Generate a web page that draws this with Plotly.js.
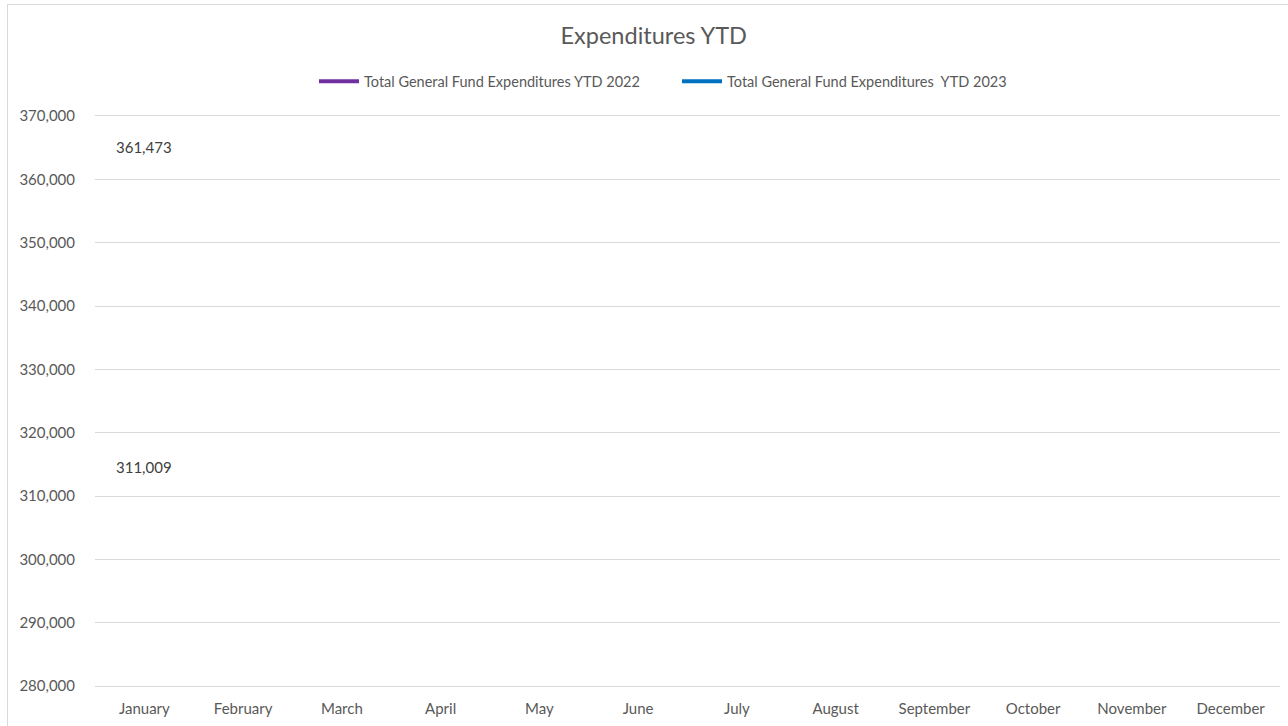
<!DOCTYPE html>
<html>
<head>
<meta charset="utf-8">
<script src="https://cdn.plot.ly/plotly-3.0.1.min.js"></script>
<style>
  body { margin: 0; background: #fff; }
  #chart { position: absolute; left: 7px; top: 4px; width: 1280px; height: 724px;
           border: 1px solid #d9d9d9; box-sizing: content-box; }
</style>
</head>
<body>
<div id="chart"></div>
<script>
var months = ['January', 'February', 'March', 'April', 'May', 'June',
              'July', 'August', 'September', 'October', 'November', 'December'];
var ytd2022 = [361473];
var ytd2023 = [311009];
var names = ['Total General Fund Expenditures YTD 2022',
             'Total General Fund Expenditures  YTD 2023'];
var colors = ['#7030a0', '#0070c0'];

var series = [ytd2022, ytd2023];
var data = [];
var notes = [];

for (var i = 0; i < series.length; i++) {
  data.push({
    x: months.slice(0, series[i].length),
    y: series[i],
    mode: 'lines',
    name: names[i].replace(/  /g, '&nbsp; '),
    line: {color: colors[i], width: 4}
  });
  // data labels sit just above each point, like Excel's "above" labels
  for (var j = 0; j < series[i].length; j++) {
    notes.push({
      x: months[j], y: series[i][j],
      text: series[i][j].toLocaleString('en-US'),
      showarrow: false, yshift: 23,
      font: {family: 'Lato, sans-serif', size: 15, color: '#404040'}
    });
  }
}

// dummy trace so all twelve months show on the axis
data.push({x: months, y: months.map(function () { return null; }),
           mode: 'lines', showlegend: false, hoverinfo: 'skip'});

var layout = {
  width: 1280, height: 724,
  margin: {l: 87, r: 8, t: 111, b: 43},
  paper_bgcolor: '#fff', plot_bgcolor: '#fff',
  font: {family: 'Lato, sans-serif', size: 15, color: '#595959'},
  title: {text: 'Expenditures YTD', font: {size: 23.5, color: '#595959'},
          xref: 'container', x: 0.5045, xanchor: 'center', y: 0.958, yanchor: 'middle'},
  showlegend: true,
  legend: {orientation: 'h', x: 219 / 1185, xanchor: 'left', y: 1.061, yanchor: 'middle',
           font: {size: 14.5, color: '#595959'}, itemwidth: 40,
           entrywidth: 308, entrywidthmode: 'pixels'},
  xaxis: {type: 'category', categoryarray: months, range: [-0.5, 11.5],
          showline: true, mirror: true, linecolor: '#d9d9d9', linewidth: 1,
          showgrid: false, zeroline: false, ticks: '',
          ticklabelstandoff: 9, fixedrange: true},
  yaxis: {range: [280000, 370000], dtick: 10000, tick0: 280000, tickformat: ',d',
          showgrid: true, gridcolor: '#d9d9d9', gridwidth: 1, zeroline: false,
          showline: false, ticks: '', ticklabelstandoff: 19, fixedrange: true},
  annotations: notes
};

Plotly.newPlot('chart', data, layout, {displayModeBar: false, staticPlot: true});
</script>
</body>
</html>
